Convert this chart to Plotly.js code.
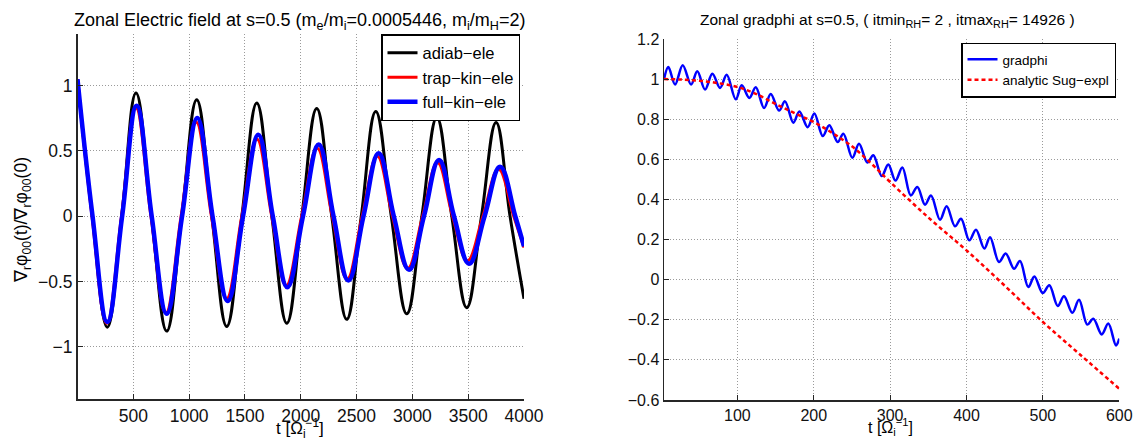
<!DOCTYPE html>
<html>
<head>
<meta charset="utf-8">
<script src="https://cdn.plot.ly/plotly-3.0.1.min.js"></script>
<style>
  html, body { margin: 0; padding: 0; background: #ffffff; }
  #chart { width: 1137px; height: 441px; }
</style>
</head>
<body>
<div id="chart"></div>
<script>
// ---------- Left panel: zonal electric field (GAM oscillations) ----------
const adiabT = [0, 133, 267, 396, 524, 662, 799, 934, 1068, 1203, 1337, 1472, 1606, 1741, 1875, 2009, 2143, 2278, 2412, 2542, 2672, 2811, 2950, 3085, 3219, 3353, 3487, 3619, 3750, 3875, 4000];
const adiabV = [1.05, 0, -0.85, 0, 0.944, 0, -0.88, 0, 0.893, 0, -0.844, 0, 0.868, 0, -0.819, 0, 0.826, 0, -0.79, 0, 0.803, 0, -0.747, 0, 0.757, 0, -0.70, 0, 0.719, 0, -0.632];

const trapT = [0, 130, 262, 394, 524, 658, 792, 928, 1064, 1200, 1336, 1472, 1608, 1740, 1870, 2008, 2148, 2282, 2416, 2550, 2686, 2822, 2958, 3092, 3226, 3360, 3494, 3632, 3772, 3908, 4000];
const trapV = [1.05, 0, -0.82, 0, 0.83, 0, -0.74, 0, 0.72, 0, -0.63, 0, 0.59, 0, -0.53, 0, 0.52, 0, -0.48, 0, 0.46, 0, -0.40, 0, 0.41, 0, -0.34, 0, 0.36, 0, -0.24];

const fullT = [0, 135, 267, 400, 530, 665, 799, 937, 1073, 1210, 1346, 1483, 1620, 1750, 1880, 2020, 2161, 2294, 2427, 2562, 2698, 2834, 2970, 3104, 3239, 3373, 3508, 3647, 3786, 3922, 4000];
const fullV = [1.05, 0, -0.81, 0, 0.847, 0, -0.747, 0, 0.753, 0, -0.65, 0, 0.625, 0, -0.543, 0, 0.549, 0, -0.492, 0, 0.482, 0, -0.41, 0, 0.431, 0, -0.364, 0, 0.38, 0, -0.23];

const leftXTicks = [500, 1000, 1500, 2000, 2500, 3000, 3500, 4000];
const leftYTicks = [-1, -0.5, 0, 0.5, 1];

// ---------- Right panel: zonal gradphi vs analytic ----------
const gradT = [4, 9.7, 18.5, 28.5, 39.4, 47.6, 57.7, 67.3, 77.4, 86.1, 97.9, 105.8, 115.7, 124.1, 135, 143.7, 154.6, 162.4, 173.3, 181.2, 192.1, 200.8, 211.8, 220.4, 231.4, 238.8, 250.5, 259.3, 270.2, 278, 289, 297.6, 307, 316, 327, 335.6, 345.7, 353.5, 365.3, 374, 384.9, 392.8, 403.7, 412.4, 423.3, 430.8, 442.5, 451.3, 462.2, 470, 480.9, 488.8, 499.8, 508.4, 519.4, 527.6, 538.5, 547.3, 558.1, 566, 577, 585.6, 595.7, 600];
const gradV = [1.0, 1.06, 0.973, 1.069, 0.973, 1.039, 0.948, 1.027, 0.956, 1.022, 0.899, 0.969, 0.906, 0.959, 0.856, 0.926, 0.843, 0.889, 0.783, 0.839, 0.760, 0.828, 0.716, 0.770, 0.686, 0.728, 0.608, 0.678, 0.584, 0.620, 0.517, 0.574, 0.494, 0.559, 0.420, 0.462, 0.374, 0.420, 0.299, 0.366, 0.266, 0.304, 0.196, 0.249, 0.155, 0.212, 0.088, 0.130, 0.055, 0.093, -0.037, 0.016, -0.067, -0.028, -0.131, -0.083, -0.165, -0.100, -0.224, -0.195, -0.273, -0.219, -0.328, -0.294];

const sugT = [4, 25, 50, 75, 100, 125, 150, 175, 200, 225, 250, 275, 300, 350, 400, 450, 500, 550, 600];
const sugV = [1.0, 0.998, 0.992, 0.98, 0.961, 0.925, 0.876, 0.83, 0.786, 0.73, 0.665, 0.58, 0.487, 0.31, 0.146, -0.03, -0.211, -0.378, -0.544];

const rightXTicks = [100, 200, 300, 400, 500, 600];
const rightYTicks = [-0.6, -0.4, -0.2, 0, 0.2, 0.4, 0.6, 0.8, 1, 1.2];

// ---------- Figure ----------
const W = 1137, H = 441;
const FONT = 'Liberation Sans, Arial, Helvetica, sans-serif';
const px = v => v / W;
const py = v => (H - v) / H;

const traces = [
  { x: adiabT, y: adiabV, xaxis: 'x', yaxis: 'y', name: 'adiab−ele', mode: 'lines',
    line: { color: '#000000', width: 3, shape: 'spline', smoothing: 1.2 }, legend: 'legend' },
  { x: trapT, y: trapV, xaxis: 'x', yaxis: 'y', name: 'trap−kin−ele', mode: 'lines',
    line: { color: '#ff0000', width: 3, shape: 'spline', smoothing: 1.2 }, legend: 'legend' },
  { x: fullT, y: fullV, xaxis: 'x', yaxis: 'y', name: 'full−kin−ele', mode: 'lines',
    line: { color: '#0000ff', width: 4.5, shape: 'spline', smoothing: 1.2 }, legend: 'legend' },
  { x: gradT, y: gradV, xaxis: 'x2', yaxis: 'y2', name: 'gradphi', mode: 'lines',
    line: { color: '#0000ff', width: 2.5, shape: 'spline', smoothing: 1 }, legend: 'legend2' },
  { x: sugT, y: sugV, xaxis: 'x2', yaxis: 'y2', name: 'analytic Sug−expl', mode: 'lines',
    line: { color: '#ff0000', width: 2.5, dash: '4px,3px', shape: 'spline', smoothing: 1 }, legend: 'legend2' }
];

const axisCommon = {
  showline: true, linecolor: '#262626', linewidth: 1.5,
  ticks: 'inside', ticklen: 5, tickcolor: '#262626', tickwidth: 1,
  showgrid: true, gridcolor: '#9a9a9a', gridwidth: 1, griddash: '1px,2px',
  zeroline: false, mirror: false, automargin: false, fixedrange: true,
  tickfont: { family: FONT, color: '#111111' }
};

const layout = {
  width: W, height: H,
  margin: { l: 0, r: 0, t: 0, b: 0, pad: 0 },
  paper_bgcolor: '#ffffff', plot_bgcolor: '#ffffff',
  font: { family: FONT, color: '#000000' },
  showlegend: true,
  xaxis: Object.assign({}, axisCommon, {
    domain: [px(77.5), px(524)], range: [0, 4000], anchor: 'y',
    tickmode: 'array', tickvals: leftXTicks,
    tickfont: { family: FONT, size: 17.5, color: '#111111' }
  }),
  yaxis: Object.assign({}, axisCommon, {
    domain: [(H - 399) / H, (H - 33.5) / H], range: [-1.4, 1.4], anchor: 'x',
    tickmode: 'array', tickvals: leftYTicks,
    tickfont: { family: FONT, size: 17.5, color: '#111111' }
  }),
  xaxis2: Object.assign({}, axisCommon, {
    domain: [px(664), px(1119.3)], range: [4, 600], anchor: 'y2',
    tickmode: 'array', tickvals: rightXTicks,
    tickfont: { family: FONT, size: 16, color: '#111111' }
  }),
  yaxis2: Object.assign({}, axisCommon, {
    domain: [(H - 400) / H, (H - 39) / H], range: [-0.6, 1.2], anchor: 'x2',
    tickmode: 'array', tickvals: rightYTicks,
    tickfont: { family: FONT, size: 16, color: '#111111' }
  }),
  legend: {
    x: px(520), xanchor: 'right', y: py(34), yanchor: 'top',
    bgcolor: '#ffffff', bordercolor: '#000000', borderwidth: 1.5,
    font: { family: FONT, size: 16.5, color: '#000000' }
  },
  legend2: {
    x: px(1116), xanchor: 'right', y: py(42.5), yanchor: 'top',
    bgcolor: '#ffffff', bordercolor: '#000000', borderwidth: 1.5,
    font: { family: FONT, size: 13.5, color: '#000000' }
  },
  annotations: [
    { text: 'Zonal Electric field at s=0.5 (m<sub>e</sub>/m<sub>i</sub>=0.0005446, m<sub>i</sub>/m<sub>H</sub>=2)',
      xref: 'paper', yref: 'paper', x: px(300), y: py(21), xanchor: 'center', yanchor: 'middle',
      showarrow: false, font: { family: FONT, size: 18, color: '#000000' } },
    { text: 'Zonal gradphi at s=0.5, ( itmin<sub>RH</sub>= 2 , itmax<sub>RH</sub>= 14926 )',
      xref: 'paper', yref: 'paper', x: px(887), y: py(20), xanchor: 'center', yanchor: 'middle',
      showarrow: false, font: { family: FONT, size: 15.5, color: '#000000' } },
    { text: 't [Ω<sub>i</sub><sup>−1</sup>]',
      xref: 'paper', yref: 'paper', x: px(300), y: py(428), xanchor: 'center', yanchor: 'middle',
      showarrow: false, borderpad: 0, font: { family: FONT, size: 17, color: '#000000' } },
    { text: 't [Ω<sub>i</sub><sup>−1</sup>]',
      xref: 'paper', yref: 'paper', x: px(891), y: py(427), xanchor: 'center', yanchor: 'middle',
      showarrow: false, borderpad: 0, font: { family: FONT, size: 16, color: '#000000' } },
    { text: '∇<sub>r</sub>φ<sub>00</sub>(t)/∇<sub>r</sub>φ<sub>00</sub>(0)',
      xref: 'paper', yref: 'paper', x: px(22), y: py(220), xanchor: 'center', yanchor: 'middle',
      textangle: -90, showarrow: false, font: { family: FONT, size: 17.5, color: '#000000' } }
  ]
};

Plotly.newPlot('chart', traces, layout, { displayModeBar: false, staticPlot: true });
</script>
</body>
</html>
